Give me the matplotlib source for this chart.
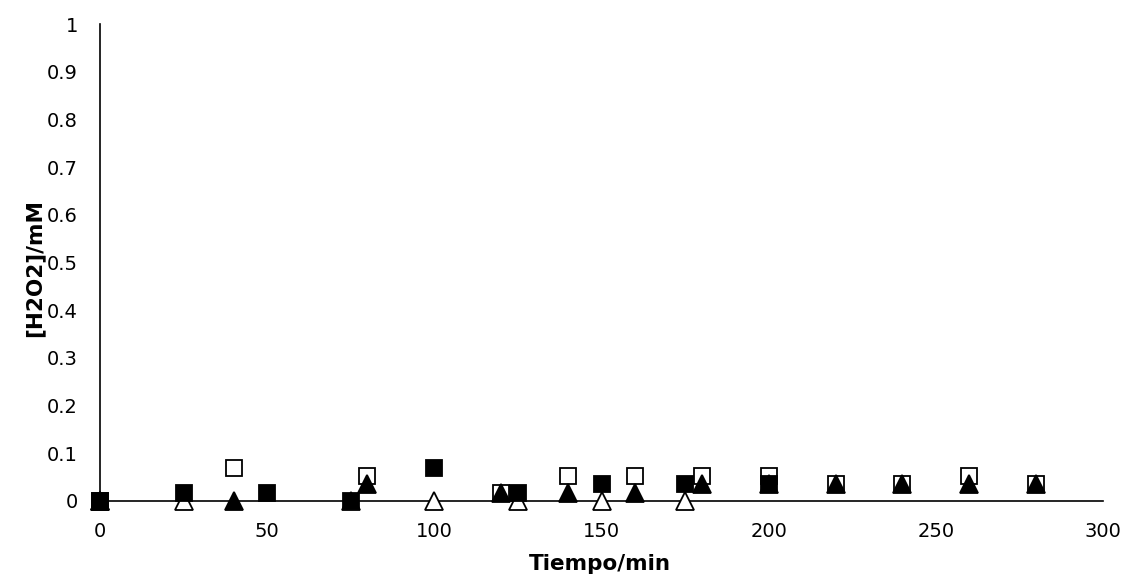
import matplotlib
matplotlib.use("Agg")
import matplotlib.pyplot as plt
from matplotlib.ticker import FuncFormatter

# Data
t_open_sq = [0, 40, 80, 120, 140, 160, 180, 200, 220, 240, 260, 280]
h_open_sq = [0, 0.07, 0.052, 0.017, 0.052, 0.052, 0.052, 0.052, 0.035, 0.035, 0.052, 0.035]

t_open_tri = [0, 25, 75, 100, 125, 150, 175]
h_open_tri = [0, 0, 0, 0, 0, 0, 0]

t_fill_sq = [0, 25, 50, 75, 100, 125, 150, 175, 200]
h_fill_sq = [0, 0.017, 0.017, 0, 0.07, 0.017, 0.035, 0.035, 0.035]

t_fill_tri = [0, 40, 80, 120, 140, 160, 180, 200, 220, 240, 260, 280]
h_fill_tri = [0, 0, 0.035, 0.017, 0.017, 0.017, 0.035, 0.035, 0.035, 0.035, 0.035, 0.035]

x_ticks = [0, 50, 100, 150, 200, 250, 300]
y_ticks = [0, 0.1, 0.2, 0.3, 0.4, 0.5, 0.6, 0.7, 0.8, 0.9, 1.0]

plt.rcParams['font.family'] = ['DejaVu Sans']

fig = plt.figure(figsize=(11.26, 5.81), dpi=100)
ax = fig.add_axes([100/1126, 1-501/581, 1003/1126, 477/581])

ms = 12
mew = 1.3
ax.plot(t_open_sq, h_open_sq, ls='none', marker='s', ms=ms, mfc='none', mec='black', mew=mew, clip_on=False, zorder=3)
ax.plot(t_open_tri, h_open_tri, ls='none', marker='^', ms=ms+0.5, mfc='white', mec='black', mew=mew, clip_on=False, zorder=4)
ax.plot(t_fill_sq, h_fill_sq, ls='none', marker='s', ms=ms, mfc='black', mec='black', mew=mew, clip_on=False, zorder=5)
ax.plot(t_fill_tri, h_fill_tri, ls='none', marker='^', ms=ms+0.5, mfc='black', mec='black', mew=mew, clip_on=False, zorder=6)

ax.set_xlim(0, 300)
ax.set_ylim(0, 1)
ax.set_xticks(x_ticks)
ax.set_yticks(y_ticks)
ax.yaxis.set_major_formatter(FuncFormatter(lambda v, p: f"{v:g}"))
ax.tick_params(axis='both', length=0, labelsize=14, colors='black')
ax.tick_params(axis='x', pad=15)
ax.tick_params(axis='y', pad=16)
for s in ['top', 'right']:
    ax.spines[s].set_visible(False)
for s in ['left', 'bottom']:
    ax.spines[s].set_linewidth(1.2)
    ax.spines[s].set_color('black')
    ax.spines[s].set_zorder(2)

fig.text(600/1126, 1-564/581, "Tiempo/min", ha='center', va='center', fontsize=15.5, fontweight='bold')
fig.text(34/1126, 1-268/581, "[H2O2]/mM", ha='center', va='center', rotation=90, fontsize=15.5, fontweight='bold')

fig.savefig("out.png", dpi=100)
